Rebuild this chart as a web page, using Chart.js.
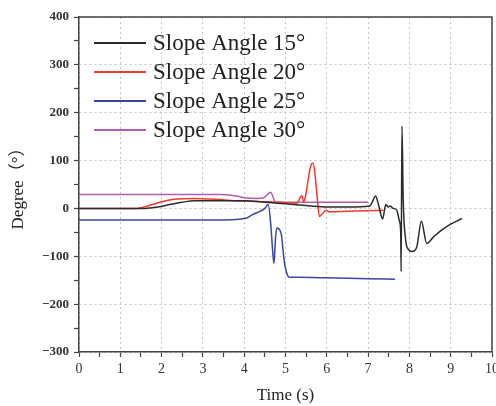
<!DOCTYPE html>
<html><head><meta charset="utf-8">
<script src="https://cdn.jsdelivr.net/npm/chart.js@4"></script>
<style>html,body{margin:0;padding:0;background:#fff}</style>
</head><body>
<canvas id="c" width="496" height="406"></canvas>
<script>
const seriesLabels = ['Slope Angle 15°', 'Slope Angle 20°', 'Slope Angle 25°', 'Slope Angle 30°'];
const seriesColors = ['#2b2b2b', '#ee3d2f', '#3c46a0', '#b45bb0'];

const t15 = [0, 1.6, 1.9, 2.2, 2.5, 2.8, 3.2, 3.6, 4.0, 4.4, 4.8, 5.2, 5.6, 6.0, 6.5, 7.04, 7.1, 7.18, 7.26, 7.35, 7.43, 7.49, 7.53, 7.61, 7.69, 7.76, 7.79, 7.80, 7.82, 7.85, 7.91, 7.97, 8.07, 8.18, 8.29, 8.42, 8.58, 8.74, 9.0, 9.27];
const y15 = [0, 0, 3, 8, 13, 16, 16, 16, 16, 14, 11, 8, 5, 3, 3, 5, 13, 26, 5, -22, 8, 3, 5, 0, -3, -27, -50, -132, 172, 18, -66, -85, -90, -80, -27, -73, -60, -48, -33, -21];

const t20 = [0, 1.4, 1.7, 2.0, 2.3, 2.8, 3.3, 3.8, 4.2, 4.6, 5.0, 5.27, 5.33, 5.39, 5.44, 5.47, 5.53, 5.60, 5.66, 5.71, 5.76, 5.82, 5.9, 5.99, 6.07, 6.5, 7.0, 7.37];
const y20 = [0, 0, 6, 14, 19, 21, 19, 16, 15, 14, 12, 11, 18, 27, 14, 20, 50, 85, 95, 75, 30, -17, -10, -4, -7, -6, -5, -4];

const t25 = [0, 1, 2, 3, 3.4, 3.8, 4.06, 4.2, 4.38, 4.5, 4.58, 4.64, 4.69, 4.72, 4.76, 4.79, 4.86, 4.9, 4.97, 5.05, 5.1, 5.3, 6.0, 7.0, 7.65];
const y25 = [-24, -24, -24, -24, -24, -23, -20, -13, -6, 0, 8, -30, -90, -115, -60, -41, -45, -55, -110, -140, -144, -144, -145, -147, -148];

const t30 = [0, 1, 2, 3, 3.4, 3.8, 4.06, 4.3, 4.47, 4.55, 4.64, 4.70, 4.75, 5.0, 6.0, 7.0];
const y30 = [29, 29, 29, 29, 29, 26, 22, 21, 22, 28, 34, 24, 13, 13, 13, 13];

const xTicks = {min: 0, max: 10, step: 0.5};
const yTicks = {min: -300, max: 400, step: 50};

const seriesT = [t15, t20, t25, t30];
const seriesY = [y15, y20, y25, y30];

const datasets = seriesLabels.map((lab, k) => ({
  label: lab,
  data: seriesT[k].map((t, i) => ({x: t, y: seriesY[k][i]})),
  borderColor: seriesColors[k],
  backgroundColor: seriesColors[k],
  borderWidth: 1.5,
  pointRadius: 0,
  cubicInterpolationMode: 'monotone',
  fill: false
}));

const serif = '"Liberation Serif", "Times New Roman", "Noto Sans CJK SC", serif';

const insideLegend = {
  id: 'insideLegend',
  afterDatasetsDraw(chart) {
    const ctx = chart.ctx, a = chart.chartArea;
    ctx.save();
    ctx.font = '23px ' + serif;
    ctx.textBaseline = 'middle';
    ctx.textAlign = 'left';
    chart.data.datasets.forEach((ds, i) => {
      const y = a.top + 26 + i * 29;
      ctx.strokeStyle = ds.borderColor;
      ctx.lineWidth = 2;
      ctx.beginPath(); ctx.moveTo(a.left + 15, y); ctx.lineTo(a.left + 67, y); ctx.stroke();
      ctx.fillStyle = '#222';
      ctx.fillText(ds.label, a.left + 74, y + 1);
    });
    ctx.restore();
  }
};

const frame = {
  id: 'frame',
  afterDraw(chart) {
    const ctx = chart.ctx, a = chart.chartArea;
    ctx.save();
    ctx.strokeStyle = '#444';
    ctx.lineWidth = 1.5;
    ctx.beginPath();
    ctx.moveTo(a.left, a.top); ctx.lineTo(a.right, a.top); ctx.lineTo(a.right, a.bottom);
    ctx.stroke();
    ctx.restore();
  }
};

const isMajor = (v, m) => Math.abs(v / m - Math.round(v / m)) < 1e-6;

new Chart(document.getElementById('c'), {
  type: 'line',
  data: {datasets},
  plugins: [insideLegend, frame],
  options: {
    responsive: false,
    animation: false,
    devicePixelRatio: 1,
    layout: {padding: {top: 17, right: 4, left: 0, bottom: 0}},
    plugins: {legend: {display: false}, tooltip: {enabled: false}},
    scales: {
      x: {
        type: 'linear', min: xTicks.min, max: xTicks.max,
        afterFit(s) { s.height = 54; s.paddingLeft = 0; s.paddingRight = 0; },
        ticks: {
          stepSize: xTicks.step, autoSkip: false, maxRotation: 0, padding: 4,
          color: '#333', font: {family: serif, size: 14},
          callback: v => isMajor(v, 1) ? String(v) : ''
        },
        grid: {
          color: c => (c.tick && isMajor(c.tick.value, 1)) ? '#c4c4c4' : 'rgba(0,0,0,0)',
          tickColor: '#444', tickLength: 5, tickWidth: 1.2, lineWidth: 1
        },
        border: {color: '#444', width: 1.5, dash: [2, 3]},
        title: {display: true, text: 'Time (s)', color: '#222', font: {family: serif, size: 17}, padding: {top: 0, bottom: 0}}
      },
      y: {
        type: 'linear', min: yTicks.min, max: yTicks.max,
        afterFit(s) { s.width = 79; s.paddingTop = 0; s.paddingBottom = 0; },
        ticks: {
          stepSize: yTicks.step, autoSkip: false, padding: 5,
          color: '#333', font: {family: serif, size: 13, weight: 'bold'},
          callback: v => isMajor(v, 100) ? (v < 0 ? '\u2212' + Math.abs(v) : String(v)) : ''
        },
        grid: {
          color: c => (c.tick && isMajor(c.tick.value, 100)) ? '#c4c4c4' : 'rgba(0,0,0,0)',
          tickColor: '#444', tickLength: 5, tickWidth: 1.2, lineWidth: 1
        },
        border: {color: '#444', width: 1.5, dash: [2, 3]},
        title: {display: true, text: 'Degree\uFF08°\uFF09', color: '#222', font: {family: serif, size: 17}, padding: {top: 8, bottom: 0}}
      }
    }
  }
});
</script>
</body></html>
